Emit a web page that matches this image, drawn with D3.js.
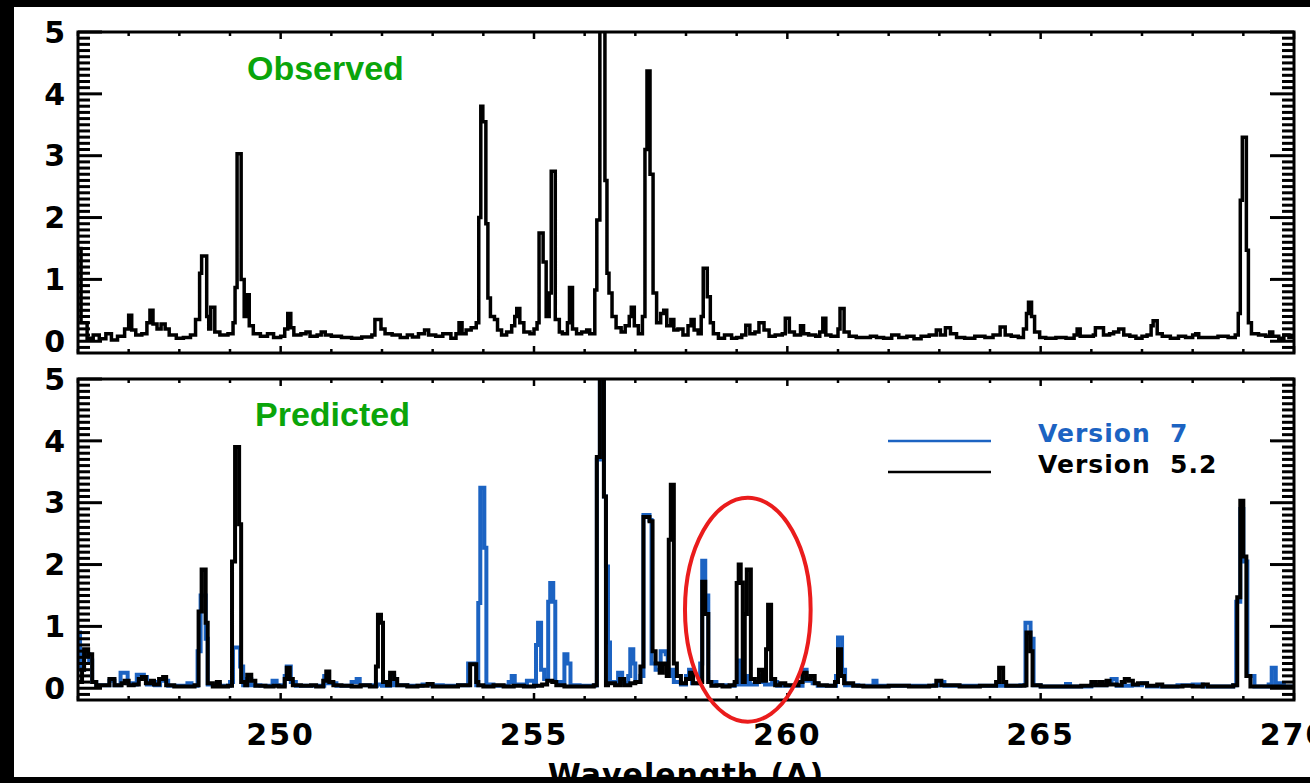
<!DOCTYPE html>
<html>
<head>
<meta charset="utf-8">
<script src="https://cdn.jsdelivr.net/npm/d3@7"></script>
<style>
html, body { margin: 0; padding: 0; background: #000; }
svg { display: block; }
</style>
</head>
<body>
<svg id="chart" width="1310" height="783"></svg>
<script>
// wavelength range and tick values
const xDomain = [246, 270];
const yDomain = [-0.19, 5];
const xMajorTicks = [250, 255, 260, 265, 270];
const xMinorTicks = [246, 247, 248, 249, 251, 252, 253, 254, 256, 257, 258, 259, 261, 262, 263, 264, 266, 267, 268, 269];
const yMajorTicks = [0, 1, 2, 3, 4, 5];
const yMinorTicks = [-0.1, 0.1, 0.2, 0.3, 0.4, 0.5, 0.6, 0.7, 0.8, 0.9,
  1.1, 1.2, 1.3, 1.4, 1.5, 1.6, 1.7, 1.8, 1.9, 2.1, 2.2, 2.3, 2.4, 2.5, 2.6, 2.7, 2.8, 2.9,
  3.1, 3.2, 3.3, 3.4, 3.5, 3.6, 3.7, 3.8, 3.9, 4.1, 4.2, 4.3, 4.4, 4.5, 4.6, 4.7, 4.8, 4.9];

// [wavelength, intensity]
const observed = [
  [246.00,1.50],[246.06,0.30],[246.18,0.05],[246.30,0.10],[246.42,0.04],[246.55,0.12],[246.66,0.02],
  [246.78,0.08],[246.92,0.20],[247.00,0.42],[247.06,0.18],[247.14,0.10],[247.26,0.12],[247.36,0.30],
  [247.42,0.50],[247.48,0.28],[247.56,0.20],[247.64,0.28],[247.72,0.20],[247.80,0.10],[247.94,0.05],
  [248.08,0.06],[248.22,0.10],[248.32,0.35],[248.40,1.10],[248.44,1.38],[248.54,0.40],[248.58,0.20],
  [248.62,0.55],[248.70,0.15],[248.80,0.10],[248.96,0.12],[249.06,0.30],[249.10,0.87],[249.14,3.03],
  [249.22,1.00],[249.28,0.40],[249.32,0.75],[249.38,0.25],[249.46,0.12],[249.60,0.08],[249.74,0.12],
  [249.86,0.06],[250.00,0.08],[250.08,0.20],[250.14,0.45],[250.20,0.22],[250.26,0.10],[250.40,0.12],
  [250.50,0.15],[250.58,0.08],[250.72,0.10],[250.80,0.15],[250.88,0.10],[251.00,0.08],[251.20,0.06],
  [251.40,0.05],[251.60,0.07],[251.80,0.10],[251.86,0.35],[251.98,0.20],[252.06,0.12],[252.20,0.10],
  [252.36,0.06],[252.50,0.10],[252.60,0.07],[252.72,0.12],[252.84,0.18],[252.92,0.10],[253.06,0.08],
  [253.20,0.12],[253.36,0.05],[253.46,0.12],[253.52,0.30],[253.58,0.12],[253.66,0.18],[253.76,0.22],
  [253.86,0.30],[253.91,2.00],[253.95,3.80],[253.99,3.55],[254.05,1.90],[254.09,0.70],[254.14,0.40],
  [254.22,0.35],[254.28,0.18],[254.36,0.10],[254.46,0.15],[254.56,0.25],[254.62,0.40],[254.66,0.53],
  [254.72,0.30],[254.80,0.15],[254.92,0.12],[255.00,0.20],[255.06,0.30],[255.10,1.75],[255.18,1.28],
  [255.24,0.40],[255.30,0.78],[255.34,2.75],[255.42,0.35],[255.50,0.15],[255.56,0.12],[255.66,0.30],
  [255.70,0.87],[255.76,0.20],[255.84,0.12],[255.94,0.15],[256.04,0.18],[256.10,0.12],[256.20,0.83],
  [256.24,1.96],[256.30,5.50],[256.40,2.60],[256.44,1.10],[256.48,0.78],[256.54,0.40],[256.62,0.22],
  [256.72,0.15],[256.80,0.25],[256.88,0.40],[256.92,0.55],[256.98,0.25],[257.06,0.12],[257.14,0.40],
  [257.19,3.10],[257.23,4.37],[257.29,2.70],[257.35,0.78],[257.42,0.30],[257.50,0.45],[257.56,0.50],
  [257.62,0.25],[257.70,0.35],[257.76,0.18],[257.84,0.20],[257.94,0.10],[258.04,0.25],[258.10,0.35],
  [258.16,0.18],[258.24,0.12],[258.30,0.40],[258.34,1.18],[258.42,0.72],[258.48,0.30],[258.54,0.12],
  [258.64,0.05],[258.76,0.10],[258.90,0.05],[259.00,0.06],[259.10,0.10],[259.18,0.26],[259.26,0.12],
  [259.36,0.15],[259.44,0.30],[259.54,0.18],[259.64,0.08],[259.76,0.10],[259.90,0.12],[259.96,0.37],
  [260.04,0.15],[260.14,0.10],[260.26,0.25],[260.32,0.12],[260.42,0.10],[260.56,0.08],[260.64,0.15],
  [260.70,0.37],[260.76,0.10],[260.86,0.08],[261.00,0.20],[261.04,0.53],[261.12,0.15],[261.22,0.08],
  [261.36,0.06],[261.50,0.06],[261.64,0.08],[261.76,0.06],[261.90,0.05],[262.06,0.10],[262.20,0.06],
  [262.36,0.08],[262.50,0.04],[262.64,0.08],[262.80,0.10],[262.94,0.18],[263.02,0.10],[263.12,0.22],
  [263.22,0.12],[263.34,0.06],[263.50,0.05],[263.70,0.08],[263.90,0.06],[264.06,0.10],[264.20,0.23],
  [264.30,0.10],[264.42,0.08],[264.56,0.06],[264.66,0.20],[264.72,0.45],[264.76,0.63],[264.82,0.40],
  [264.88,0.15],[264.98,0.06],[265.10,0.05],[265.30,0.06],[265.50,0.05],[265.66,0.10],[265.72,0.20],
  [265.78,0.08],[265.90,0.08],[266.04,0.10],[266.08,0.22],[266.24,0.10],[266.36,0.12],[266.44,0.15],
  [266.54,0.20],[266.64,0.10],[266.76,0.08],[266.88,0.05],[267.00,0.08],[267.10,0.10],[267.18,0.25],
  [267.22,0.33],[267.30,0.12],[267.40,0.08],[267.56,0.05],[267.72,0.08],[267.86,0.06],[268.00,0.10],
  [268.06,0.12],[268.12,0.06],[268.30,0.06],[268.50,0.08],[268.70,0.06],[268.84,0.10],[268.90,0.45],
  [268.94,2.28],[268.98,3.30],[269.06,1.47],[269.10,0.30],[269.16,0.12],[269.30,0.10],[269.44,0.08],
  [269.52,0.15],[269.58,0.08],[269.70,0.05],[269.80,0.10],[269.90,0.06],[270.00,0.06]
];

const version7 = [
  [246.00,0.90],[246.04,0.30],[246.12,0.55],[246.22,0.45],[246.28,0.10],[246.36,0.05],[246.52,0.05],
  [246.62,0.12],[246.72,0.05],[246.84,0.25],[246.92,0.25],[246.98,0.08],[247.10,0.06],[247.16,0.22],
  [247.30,0.18],[247.36,0.06],[247.44,0.10],[247.52,0.05],[247.62,0.15],[247.70,0.12],[247.78,0.04],
  [248.00,0.04],[248.16,0.08],[248.24,0.04],[248.36,0.60],[248.42,1.50],[248.52,0.80],[248.56,0.06],
  [248.70,0.06],[248.80,0.04],[249.00,0.10],[249.06,0.66],[249.16,0.66],[249.20,0.35],[249.26,0.05],
  [249.34,0.15],[249.42,0.05],[249.60,0.04],[249.84,0.12],[249.92,0.05],[250.08,0.20],[250.12,0.35],
  [250.20,0.10],[250.30,0.04],[250.60,0.04],[250.86,0.20],[250.94,0.08],[251.10,0.04],[251.40,0.10],
  [251.50,0.15],[251.56,0.05],[251.80,0.04],[251.90,0.06],[252.00,0.04],[252.16,0.20],[252.24,0.05],
  [252.50,0.04],[252.80,0.06],[252.96,0.05],[253.20,0.04],[253.50,0.05],[253.70,0.40],[253.86,0.05],
  [253.90,1.38],[253.94,3.24],[254.02,2.27],[254.06,0.06],[254.20,0.04],[254.50,0.10],[254.56,0.20],
  [254.62,0.06],[254.80,0.06],[254.86,0.12],[254.92,0.12],[255.00,0.04],[255.04,0.70],[255.08,1.06],
  [255.14,0.30],[255.20,0.15],[255.28,1.40],[255.32,1.70],[255.38,1.40],[255.42,0.10],[255.56,0.06],
  [255.60,0.55],[255.66,0.40],[255.72,0.05],[255.90,0.04],[256.10,0.04],[256.20,0.05],[256.24,3.70],
  [256.30,5.50],[256.38,3.10],[256.42,1.97],[256.46,0.74],[256.50,0.10],[256.60,0.10],[256.66,0.25],
  [256.74,0.08],[256.86,0.20],[256.90,0.63],[256.96,0.40],[257.00,0.10],[257.10,0.20],[257.16,2.80],
  [257.28,2.72],[257.32,0.40],[257.40,0.30],[257.50,0.60],[257.60,0.55],[257.64,0.20],[257.70,0.30],
  [257.76,0.10],[257.90,0.06],[258.00,0.20],[258.06,0.30],[258.12,0.08],[258.28,0.40],[258.32,2.06],
  [258.38,1.50],[258.44,0.10],[258.60,0.05],[258.80,0.04],[258.96,0.06],[259.02,0.45],[259.10,0.06],
  [259.20,0.20],[259.26,0.06],[259.40,0.10],[259.50,0.20],[259.56,0.06],[259.70,0.10],[259.80,0.04],
  [260.00,0.04],[260.30,0.30],[260.38,0.12],[260.50,0.08],[260.60,0.04],[260.96,0.20],[261.00,0.82],
  [261.08,0.30],[261.14,0.05],[261.40,0.04],[261.70,0.12],[261.76,0.04],[262.00,0.04],[262.50,0.04],
  [262.90,0.05],[263.00,0.10],[263.10,0.04],[263.40,0.04],[264.00,0.04],[264.60,0.05],[264.70,1.06],
  [264.80,0.80],[264.86,0.05],[265.00,0.03],[265.50,0.07],[265.58,0.03],[266.00,0.05],[266.30,0.10],
  [266.40,0.15],[266.50,0.04],[266.80,0.05],[267.00,0.08],[267.10,0.03],[267.70,0.05],[268.00,0.06],
  [268.20,0.03],[268.80,0.05],[268.86,1.40],[268.94,2.90],[269.00,2.05],[269.08,0.20],[269.14,0.20],
  [269.22,0.03],[269.50,0.06],[269.56,0.33],[269.64,0.08],[269.80,0.03],[270.00,0.03]
];

const version52 = [
  [246.00,0.10],[246.08,0.30],[246.12,0.63],[246.20,0.55],[246.28,0.10],[246.36,0.05],[246.50,0.05],
  [246.62,0.15],[246.72,0.05],[246.86,0.08],[246.92,0.12],[247.00,0.05],[247.10,0.06],[247.20,0.15],
  [247.26,0.18],[247.34,0.08],[247.44,0.12],[247.50,0.06],[247.60,0.15],[247.68,0.18],[247.74,0.05],
  [247.90,0.03],[248.10,0.03],[248.30,0.05],[248.38,1.24],[248.44,1.92],[248.52,1.06],[248.56,0.08],
  [248.66,0.03],[248.74,0.10],[248.80,0.03],[248.96,0.04],[249.04,2.05],[249.10,3.90],[249.18,2.65],
  [249.22,0.10],[249.30,0.05],[249.34,0.22],[249.42,0.12],[249.50,0.04],[249.70,0.03],[249.86,0.04],
  [249.96,0.03],[250.08,0.15],[250.12,0.33],[250.18,0.15],[250.24,0.05],[250.40,0.04],[250.60,0.05],
  [250.70,0.03],[250.84,0.12],[250.90,0.27],[250.96,0.10],[251.04,0.05],[251.20,0.04],[251.40,0.03],
  [251.58,0.05],[251.76,0.03],[251.88,0.35],[251.92,1.19],[251.98,1.06],[252.02,0.10],[252.10,0.05],
  [252.16,0.25],[252.24,0.15],[252.30,0.05],[252.50,0.03],[252.70,0.04],[252.90,0.07],[253.00,0.03],
  [253.30,0.03],[253.50,0.05],[253.74,0.39],[253.86,0.10],[253.90,0.05],[254.00,0.03],[254.20,0.05],
  [254.40,0.03],[254.60,0.04],[254.80,0.03],[255.00,0.04],[255.16,0.06],[255.26,0.12],[255.36,0.10],
  [255.44,0.05],[255.60,0.03],[255.80,0.03],[256.00,0.03],[256.18,0.05],[256.24,3.74],[256.30,5.50],
  [256.38,3.10],[256.42,0.05],[256.46,0.08],[256.60,0.05],[256.70,0.15],[256.78,0.05],[256.90,0.08],
  [257.00,0.10],[257.10,0.35],[257.16,2.77],[257.28,2.70],[257.34,0.60],[257.40,0.40],[257.48,0.25],
  [257.54,0.40],[257.62,0.20],[257.66,2.40],[257.70,3.29],[257.76,0.40],[257.82,0.20],[257.90,0.08],
  [258.00,0.15],[258.08,0.25],[258.14,0.08],[258.26,0.10],[258.32,1.72],[258.38,1.20],[258.44,0.10],
  [258.50,0.04],[258.60,0.05],[258.72,0.03],[258.86,0.05],[258.96,0.10],[259.00,1.70],[259.04,2.00],
  [259.08,1.71],[259.12,0.10],[259.16,1.20],[259.20,1.92],[259.28,0.15],[259.36,0.10],[259.44,0.30],
  [259.52,0.12],[259.58,0.63],[259.62,1.35],[259.68,0.15],[259.76,0.05],[259.86,0.08],[259.96,0.05],
  [260.10,0.05],[260.22,0.10],[260.30,0.25],[260.38,0.15],[260.46,0.20],[260.54,0.08],[260.62,0.05],
  [260.78,0.04],[260.94,0.10],[261.00,0.63],[261.06,0.20],[261.12,0.08],[261.30,0.04],[261.50,0.03],
  [261.80,0.03],[262.00,0.04],[262.40,0.03],[262.80,0.04],[262.94,0.12],[263.04,0.05],[263.40,0.03],
  [263.80,0.04],[264.12,0.10],[264.18,0.33],[264.26,0.10],[264.32,0.04],[264.68,0.05],[264.72,0.90],
  [264.80,0.60],[264.84,0.05],[265.00,0.03],[265.40,0.03],[265.80,0.04],[266.00,0.10],[266.08,0.05],
  [266.16,0.10],[266.22,0.05],[266.30,0.12],[266.36,0.06],[266.50,0.05],[266.60,0.10],[266.66,0.15],
  [266.74,0.12],[266.82,0.06],[266.92,0.08],[267.10,0.04],[267.30,0.06],[267.40,0.03],[267.80,0.04],
  [268.00,0.03],[268.20,0.06],[268.30,0.03],[268.60,0.03],[268.80,0.05],[268.88,1.47],[268.94,3.03],
  [269.00,2.13],[269.06,0.20],[269.14,0.03],[269.50,0.03],[269.80,0.03],[270.00,0.03]
];

const panelTitles = ['Observed', 'Predicted'];
const legendLabels = ['Version  7', 'Version  5.2'];
const xAxisLabel = 'Wavelength (A)';
// circled region: centre wavelength, centre intensity, half widths
const highlight = { x: 259.22, y: 1.27, rx: 1.24, ry: 1.81 };

const blue = '#1c63c2';
const green = '#0aa50a';

function whenLoaded() {
  const svg = d3.select('#chart');
  const width = +svg.attr('width');
  const height = +svg.attr('height');

  // black frame round a white sheet
  svg.append('rect').attr('width', width).attr('height', height).attr('fill', '#000');
  svg.append('rect').attr('x', 14).attr('y', 7).attr('width', width - 14).attr('height', 770).attr('fill', '#fff');

  const left = 78, right = 1294;
  const xScale = d3.scaleLinear().domain(xDomain).range([left, right]);

  const panels = [
    { top: 32, bottom: 353, title: panelTitles[0], tx: 247, ty: 80, lw: 3.5,
      series: [{ data: observed, color: '#000' }] },
    { top: 379, bottom: 700, title: panelTitles[1], tx: 255, ty: 426, lw: 4,
      series: [{ data: version7, color: blue }, { data: version52, color: '#000' }] }
  ];

  panels.forEach((p, i) => {
    const yScale = d3.scaleLinear().domain(yDomain).range([p.bottom, p.top]);
    p.yScale = yScale;

    const clipId = 'clip' + i;
    svg.append('clipPath').attr('id', clipId)
      .append('rect')
      .attr('x', left).attr('y', p.top)
      .attr('width', right - left).attr('height', p.bottom - p.top);

    const line = d3.line()
      .x(d => xScale(d[0]))
      .y(d => yScale(d[1]))
      .curve(d3.curveStepAfter);

    const g = svg.append('g').attr('clip-path', `url(#${clipId})`);
    p.series.forEach(s => {
      g.append('path')
        .attr('d', line(s.data))
        .attr('fill', 'none')
        .attr('stroke', s.color)
        .attr('stroke-width', p.lw)
        .attr('stroke-linejoin', 'miter');
    });

    // y ticks on both sides, pointing inwards
    const yTickG = svg.append('g').attr('stroke', '#000').attr('stroke-width', 3);
    [[left, 1], [right, -1]].forEach(([x0, dir]) => {
      yTickG.selectAll(null).data(yMinorTicks).join('line')
        .attr('x1', x0).attr('x2', x0 + dir * 12)
        .attr('y1', d => yScale(d)).attr('y2', d => yScale(d));
      yTickG.selectAll(null).data(yMajorTicks).join('line')
        .attr('x1', x0).attr('x2', x0 + dir * 24)
        .attr('y1', d => yScale(d)).attr('y2', d => yScale(d));
    });

    // x ticks on top and bottom edges, pointing inwards
    const xTickG = svg.append('g').attr('stroke', '#000').attr('stroke-width', 2.5);
    [[p.top, 1], [p.bottom, -1]].forEach(([y0, dir]) => {
      xTickG.selectAll(null).data(xMinorTicks).join('line')
        .attr('x1', d => xScale(d)).attr('x2', d => xScale(d))
        .attr('y1', y0).attr('y2', y0 + dir * 4);
      xTickG.selectAll(null).data(xMajorTicks).join('line')
        .attr('x1', d => xScale(d)).attr('x2', d => xScale(d))
        .attr('y1', y0).attr('y2', y0 + dir * 7);
    });

    // tick labels
    svg.append('g').selectAll('text').data(yMajorTicks).join('text')
      .attr('x', left - 13)
      .attr('y', d => yScale(d))
      .attr('dy', '0.36em')
      .attr('text-anchor', 'end')
      .attr('font-family', 'DejaVu Sans, sans-serif')
      .attr('font-weight', 'bold')
      .attr('font-size', 30)
      .attr('fill', '#000')
      .text(d => d);

    if (i === 1) {
      svg.append('g').selectAll('text').data(xMajorTicks).join('text')
        .attr('x', d => xScale(d))
        .attr('y', p.bottom + 45)
        .attr('text-anchor', 'middle')
        .attr('font-family', 'DejaVu Sans, sans-serif')
        .attr('font-weight', 'bold')
        .attr('font-size', 30)
        .attr('letter-spacing', 2)
        .attr('fill', '#000')
        .text(d => d);
    }

    // plot frame
    svg.append('rect')
      .attr('x', left).attr('y', p.top)
      .attr('width', right - left).attr('height', p.bottom - p.top)
      .attr('fill', 'none').attr('stroke', '#000').attr('stroke-width', 3);

    svg.append('text')
      .attr('x', p.tx).attr('y', p.ty)
      .attr('font-family', 'Liberation Sans, Arial, sans-serif')
      .attr('font-weight', 'bold')
      .attr('font-size', 34)
      .attr('fill', green)
      .text(p.title);
  });

  // legend in the lower panel
  const legendColors = [blue, '#000'];
  legendLabels.forEach((lab, i) => {
    const ly = 441 + i * 31;
    svg.append('line')
      .attr('x1', 888).attr('x2', 991).attr('y1', ly).attr('y2', ly)
      .attr('stroke', legendColors[i]).attr('stroke-width', 2.5);
    svg.append('text')
      .attr('x', 1038).attr('y', ly + 1)
      .attr('font-family', 'DejaVu Sans, sans-serif')
      .attr('font-weight', 'bold')
      .attr('font-size', 25)
      .attr('letter-spacing', 1)
      .style('white-space', 'pre')
      .attr('fill', legendColors[i])
      .text(lab);
  });

  // red ellipse round the 259 A lines
  const py = panels[1].yScale;
  svg.append('ellipse')
    .attr('cx', xScale(highlight.x))
    .attr('cy', py(highlight.y))
    .attr('rx', xScale(highlight.x + highlight.rx) - xScale(highlight.x))
    .attr('ry', py(highlight.y - highlight.ry) - py(highlight.y))
    .attr('fill', 'none')
    .attr('stroke', '#ea1c1c')
    .attr('stroke-width', 4);

  // axis title, partly hidden by the bottom black band as in the original
  svg.append('text')
    .attr('x', (left + right) / 2).attr('y', 785)
    .attr('text-anchor', 'middle')
    .attr('font-family', 'DejaVu Sans, sans-serif')
    .attr('font-weight', 'bold')
    .attr('font-size', 30)
    .attr('letter-spacing', 1)
    .attr('fill', '#000')
    .text(xAxisLabel);

  svg.append('rect').attr('x', 0).attr('y', 777).attr('width', width).attr('height', height - 777).attr('fill', '#000');
}

window.onload = whenLoaded;
</script>
</body>
</html>
